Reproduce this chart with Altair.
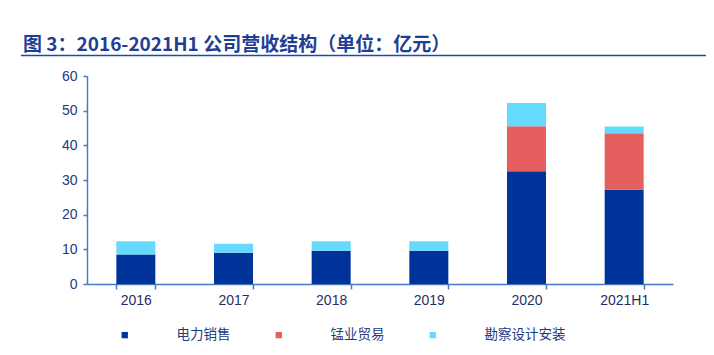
import altair as alt
import pandas as pd

years = ["2016", "2017", "2018", "2019", "2020", "2021H1"]
series = ["电力销售", "锰业贸易", "勘察设计安装"]
power = [8.5, 9.0, 9.6, 9.6, 32.5, 27.2]
manganese = [0.0, 0.0, 0.0, 0.0, 13.0, 16.3]
survey = [3.8, 2.6, 2.7, 2.7, 6.7, 1.9]
colors = ["#003399", "#E65F5F", "#66D9FF"]
y_ticks = [0, 10, 20, 30, 40, 50, 60]
title_text = "图 3：2016-2021H1 公司营收结构（单位：亿元）"

rows = []
for i, y in enumerate(years):
    for k, (name, vals) in enumerate(zip(series, [power, manganese, survey])):
        rows.append({"year": y, "series": name, "value": vals[i], "order": k})
df = pd.DataFrame(rows)

axis_color = "#4A78C8"
label_color = "#23397F"
font = "Liberation Sans"

bars = alt.Chart(df).mark_bar(size=39).encode(
    x=alt.X("year:N", sort=years, title=None,
            scale=alt.Scale(paddingInner=0.6, paddingOuter=0.3),
            axis=alt.Axis(labelAngle=0, tickBand="extent", domainColor=axis_color,
                          tickColor=axis_color, tickSize=5, labelPadding=4,
                          labelColor="#1F2F66", labelFont=font, labelFontSize=14,
                          domainWidth=1.5, tickWidth=1.5)),
    y=alt.Y("value:Q", stack="zero", title=None,
            scale=alt.Scale(domain=[0, 60], nice=False),
            axis=alt.Axis(values=y_ticks, grid=False, domainColor=axis_color,
                          tickColor=axis_color, tickSize=4, labelPadding=6,
                          labelColor=label_color, labelFont=font, labelFontSize=14,
                          domainWidth=1.5, tickWidth=1.5)),
    color=alt.Color("series:N", sort=series,
                    scale=alt.Scale(domain=series, range=colors),
                    legend=alt.Legend(title=None, orient="none", direction="horizontal",
                                      legendX=31, legendY=252, symbolType="square",
                                      symbolSize=40, symbolStrokeWidth=0,
                                      labelOffset=45, columnPadding=41,
                                      labelFont="Noto Sans CJK SC", labelFontSize=13.5,
                                      labelColor=label_color, padding=0)),
    order=alt.Order("order:Q"),
)

underline = alt.Chart(pd.DataFrame({"a": [0]})).mark_rule(
    color="#1F4BA5", strokeWidth=1.5, clip=False
).encode(x=alt.value(-66), x2=alt.value(634), y=alt.value(-20.5))

title = alt.Chart(pd.DataFrame({"t": [title_text]})).mark_text(
    align="left", baseline="alphabetic", font="Noto Sans CJK SC", fontSize=19,
    fontWeight="bold", color="#1F3F95", clip=False
).encode(text="t:N", x=alt.value(-64), y=alt.value(-25))

chart = alt.layer(bars, underline, title).properties(
    width=586, height=208,
    autosize=alt.AutoSizeParams(type="none"),
    padding={"left": 79, "top": 68, "right": 33, "bottom": 63},
).configure_view(stroke=None)

chart.save("out.html", embed_options={"renderer": "svg", "actions": False})
